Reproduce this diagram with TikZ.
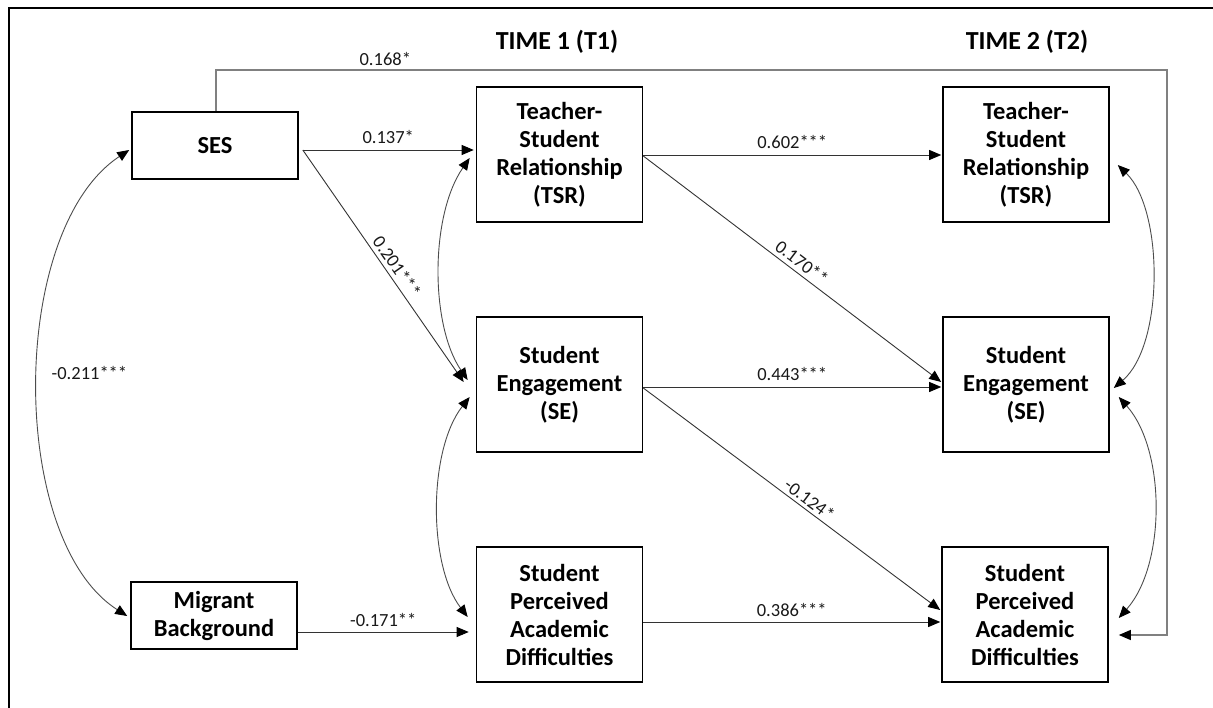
\documentclass[tikz,border=0pt]{standalone}
\usepackage{fontspec}
\setmainfont{Carlito}
\usetikzlibrary{arrows.meta}
\begin{document}
\begin{tikzpicture}[x=1pt,y=-1pt,
  tip/.tip={Triangle[length=12pt,width=10pt,color=black]},
  box/.style={draw=black,line width=1.6pt,minimum width=166pt,minimum height=135pt,
    align=center,inner sep=0pt,font=\fontsize{24.5}{28}\selectfont\bfseries},
  smallbox/.style={box,minimum height=67pt},
  conn/.style={draw=black!80,line width=0.9pt,-tip},
  bidir/.style={draw=black!70,line width=0.9pt,tip-tip},
  feedback/.style={draw=black!50,line width=1.1pt,-tip},
  coef/.style={font=\fontsize{18.5}{22}\selectfont,text=black!90,inner sep=1pt},
  timehead/.style={font=\fontsize{26}{30}\selectfont\bfseries}
]
\useasboundingbox (0,0) rectangle (1213,708);

% outer frame (left and top edges)
\draw[line width=2.3pt] (9,712) -- (9,8) -- (1216,8);

% headings
\node[timehead] (t1) at (557,42) {TIME 1 (T1)};
\node[timehead] (t2) at (1027,42) {TIME 2 (T2)};

% exogenous variables
\node[smallbox] (ses) at (215,145.5) {SES};
\node[smallbox] (mig) at (214,615.5) {Migrant\\Background};

% time 1
\node[box] (tsrA) at (559.5,154.5) {Teacher-\\Student\\Relationship\\(TSR)};
\node[box] (seA) at (559.5,384.5) {Student\\Engagement\\(SE)};
\node[box] (spadA) at (559.5,614.5) {Student\\Perceived\\Academic\\Difficulties};

% time 2
\node[box] (tsrB) at (1026,154.5) {Teacher-\\Student\\Relationship\\(TSR)};
\node[box] (seB) at (1026,384.5) {Student\\Engagement\\(SE)};
\node[box] (spadB) at (1025,614.5) {Student\\Perceived\\Academic\\Difficulties};

% path from SES to T2 difficulties along the right side
\coordinate (fbTop) at (1167,70);
\coordinate (fbBot) at (1167,635);
\draw[feedback] ([xshift=1pt]ses.north) |- (fbTop)
  node[pos=0.589,above=3pt,coef] {0.168*}
  -- (fbBot) -- ([shift={(10,20.5)}]spadB.east);

% paths into time 1
\draw[conn] ([shift={(4,4.5)}]ses.east) -- ([shift={(-2,-4.5)}]tsrA.west)
  node[midway,above=5pt,coef] {0.137*};
\draw[conn] ([shift={(4,4.5)}]ses.east) -- ([shift={(-12,-2.5)}]seA.west)
  node[pos=0.53,sloped,above=3pt,coef] {0.201***};
\draw[conn] ([shift={(0,16.5)}]mig.east) -- ([shift={(-7,17.5)}]spadA.west)
  node[midway,above=4pt,coef] {-0.171**};

% stability and cross-lagged paths
\draw[conn] ([shift={(0,0.5)}]tsrA.east) -- ([shift={(-1,0.5)}]tsrB.west)
  node[midway,above=5pt,coef] {0.602***};
\draw[conn] ([shift={(0,1.5)}]tsrA.east) -- ([shift={(-1,-2.5)}]seB.west)
  node[pos=0.51,sloped,above=3pt,coef] {0.170**};
\draw[conn] ([shift={(0,2.5)}]seA.east) -- ([shift={(-1,2.5)}]seB.west)
  node[midway,above=5pt,coef] {0.443***};
\draw[conn] ([shift={(0,3.5)}]seA.east) -- ([shift={(-1,-4.5)}]spadB.west)
  node[pos=0.54,sloped,above=2pt,coef] {-0.124*};
\draw[conn] ([shift={(0,7.5)}]spadA.east) -- ([shift={(-1,7.5)}]spadB.west)
  node[midway,above=4pt,coef] {0.386***};

% covariances
\draw[bidir] ([shift={(-2,4.5)}]ses.west) .. controls (8,230) and (8,540) ..
  ([shift={(-3,0.5)}]mig.west) node[pos=0.48,right=12pt,coef] {-0.211***};
\draw[bidir] ([shift={(-6,3.5)}]tsrA.west) .. controls (430,215) and (430,325) ..
  ([shift={(-8,-4.5)}]seA.west);
\draw[bidir] ([shift={(-6,12.5)}]seA.west) .. controls (428,450) and (428,565) ..
  ([shift={(-8,2.5)}]spadA.west);
\draw[bidir] ([shift={(8,10.5)}]tsrB.east) .. controls (1164,210) and (1164,345) ..
  ([shift={(4,3.5)}]seB.east);
\draw[bidir] ([shift={(9,12.5)}]seB.east) .. controls (1166,450) and (1166,565) ..
  ([shift={(10,3.5)}]spadB.east);
\end{tikzpicture}
\end{document}
